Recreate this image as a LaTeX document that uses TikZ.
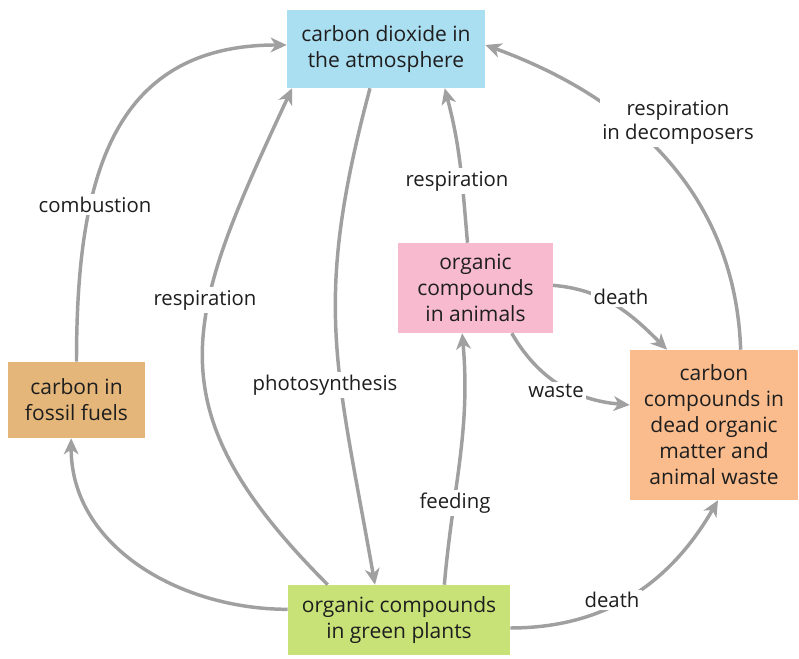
\documentclass[tikz,border=0pt]{standalone}
\usepackage{fontspec}
\setmainfont{Open Sans}
\usetikzlibrary{arrows.meta}

% colours of the boxes and the flows
\definecolor{airblue}{RGB}{170,222,241}
\definecolor{animalpink}{RGB}{247,186,206}
\definecolor{fossiltan}{RGB}{228,182,122}
\definecolor{deadpeach}{RGB}{250,188,140}
\definecolor{plantlime}{RGB}{200,226,120}
\definecolor{flowgray}{RGB}{160,160,160}
\definecolor{textgray}{RGB}{30,30,30}

\tikzset{
  box/.style={rectangle, inner sep=0pt, align=center, text=textgray,
    font=\fontsize{15.75}{19.5}\selectfont},
  flow/.style={draw=flowgray, line width=2.6pt,
    -{Stealth[length=12pt, width=11pt, inset=3.5pt]}},
  lbl/.style={fill=white, inner sep=2pt, align=center, text=textgray,
    font=\fontsize{15.25}{18}\selectfont}
}

\begin{document}
\begin{tikzpicture}[x=0.75pt, y=0.75pt]
  \useasboundingbox (0,0) rectangle (799,659);

  % Carbon stores
  \node[box, fill=airblue, minimum width=148.5pt, minimum height=58.5pt] (co2) at (386,610) {carbon dioxide in\\the atmosphere};
  \node[box, fill=animalpink, minimum width=116pt, minimum height=67.5pt] (animals) at (475.5,371) {organic\\compounds\\in animals};
  \node[box, fill=fossiltan, minimum width=102.75pt, minimum height=57pt] (fossil) at (76.5,259) {carbon in\\fossil fuels};
  \node[box, fill=deadpeach, minimum width=126pt, minimum height=112.5pt] (dead) at (714,234) {carbon\\compounds in\\dead organic\\matter and\\animal waste};
  \node[box, fill=plantlime, minimum width=166.5pt, minimum height=52.5pt] (plants) at (399,39) {organic compounds\\in green plants};

  % Flows between the stores
  \draw[flow] (fossil.north) to[out=90, in=180, looseness=1.2] ([yshift=3pt]co2.west); % combustion
  \draw[flow] ([yshift=8pt]plants.west) to[out=180, in=-90] ([xshift=-4pt]fossil.south);
  \draw[flow] ([xshift=30pt]plants.north west) to[out=135, in=-115, looseness=1.3] ([xshift=4pt]co2.south west); % respiration
  \draw[flow] ([xshift=-12pt]co2.south) to[out=-105, in=100, looseness=1.15] ([xshift=-18pt]plants.north); % photosynthesis
  \draw[flow] ([xshift=34pt]plants.north) to[out=85, in=-85] ([xshift=-10pt]animals.south); % feeding
  \draw[flow] ([xshift=-6pt]animals.north) to[out=95, in=-75] ([xshift=44pt]co2.south); % respiration
  \draw[flow] ([yshift=2pt]animals.east) to[out=-5, in=135] ([xshift=28pt]dead.north west); % death
  \draw[flow] ([xshift=-31pt]animals.south east) to[out=-60, in=175] ([yshift=15pt]dead.west); % waste
  \draw[flow] ([xshift=20pt]dead.north) to[out=92, in=-20] ([yshift=3pt]co2.east); % decomposers
  \draw[flow] ([yshift=-6pt]plants.east) to[out=0, in=-120] ([xshift=3pt]dead.south); % death

  % Labels on the flows
  \node[lbl] (combustion) at (95,454) {combustion};
  \node[lbl] (plantresp) at (205,359) {respiration};
  \node[lbl] (photo) at (325,274) {photosynthesis};
  \node[lbl] (animalresp) at (457,478) {respiration};
  \node[lbl] (animaldeath) at (621,362) {death};
  \node[lbl] (waste) at (556,268) {waste};
  \node[lbl] (decomp) at (678,537) {respiration\\in decomposers};
  \node[lbl] (feeding) at (455,156) {feeding};
  \node[lbl] (plantdeath) at (612,59) {death};
\end{tikzpicture}
\end{document}
